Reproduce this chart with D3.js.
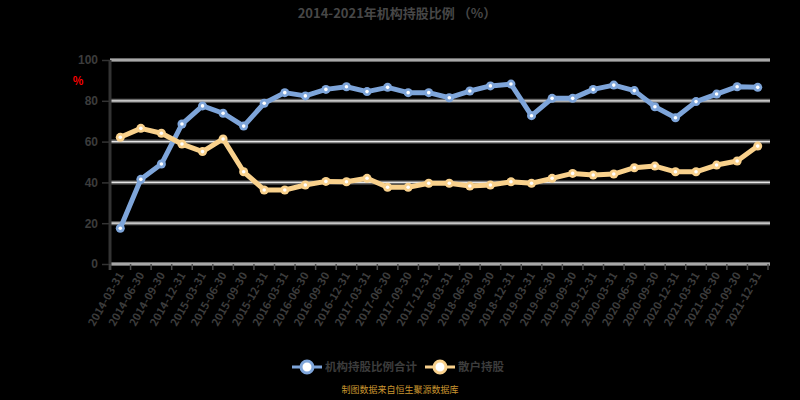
<!DOCTYPE html>
<html>
<head>
<meta charset="utf-8">
<script src="https://d3js.org/d3.v7.min.js"></script>
<style>
	body { margin: 0; background: #000; }
	svg { background-color: #000; font-family: "Noto Sans CJK SC", "Noto Sans", sans-serif; }
	.grid .outer { stroke: #6a6a6a; stroke-width: 4; }
	.grid .inner { stroke: #e6e6e6; stroke-width: 1.2; }
	.tick-label { fill: #3c3c3c; font-size: 11px; font-weight: bold; }
</style>
</head>
<body>
<svg id="chart" width="800" height="400"></svg>
<script>
// data
var dates = ["2014-03-31","2014-06-30","2014-09-30","2014-12-31","2015-03-31","2015-06-30","2015-09-30","2015-12-31",
	"2016-03-31","2016-06-30","2016-09-30","2016-12-31","2017-03-31","2017-06-30","2017-09-30","2017-12-31",
	"2018-03-31","2018-06-30","2018-09-30","2018-12-31","2019-03-31","2019-06-30","2019-09-30","2019-12-31",
	"2020-03-31","2020-06-30","2020-09-30","2020-12-31","2021-03-31","2021-06-30","2021-09-30","2021-12-31"];
var blueValues = [17.5, 41.5, 49.0, 68.6, 77.5, 73.9, 67.6, 78.8, 84.0, 82.4, 85.6, 86.9, 84.5, 86.6, 84.0, 84.0,
	81.5, 84.8, 87.3, 88.2, 72.7, 81.2, 81.2, 85.6, 87.7, 85.0, 77.1, 71.7, 79.6, 83.3, 86.9, 86.6];
var orangeValues = [62.1, 66.5, 64.1, 58.8, 55.1, 61.3, 45.2, 36.3, 36.3, 38.7, 40.5, 40.3, 42.0, 37.6, 37.6, 39.6,
	39.6, 38.2, 38.7, 40.3, 39.6, 42.0, 44.4, 43.6, 44.1, 47.2, 48.0, 45.2, 45.2, 48.5, 50.5, 57.8];
var yTicks = [0, 20, 40, 60, 80, 100];
var seriesNames = ["机构持股比例合计", "散户持股"];
var titleText = "2014-2021年机构持股比例 （%）";
var sourceText = "制图数据来自恒生聚源数据库";

var svg = d3.select("#chart");
var plotLeft = 110, plotRight = 768, plotTop = 60, plotBottom = 264;

var x = d3.scaleBand().domain(dates).range([plotLeft, plotRight]);
var y = d3.scaleLinear().domain([0, 100]).range([plotBottom, plotTop]);

// title
svg.append("text")
	.attr("x", 397).attr("y", 18)
	.attr("text-anchor", "middle")
	.style("font-size", "13px").style("font-weight", "bold")
	.style("fill", "#474747")
	.text(titleText);

// red unit mark
svg.append("text")
	.attr("x", 78).attr("y", 85)
	.attr("text-anchor", "middle")
	.style("font-size", "11px").style("font-weight", "bold")
	.style("fill", "#ff0000")
	.text("%");

// grid lines
var grid = svg.append("g").attr("class", "grid");
yTicks.forEach(function(t) {
	grid.append("line").attr("class", "outer")
		.attr("x1", plotLeft).attr("x2", 770).attr("y1", y(t)).attr("y2", y(t));
	grid.append("line").attr("class", "inner")
		.attr("x1", plotLeft).attr("x2", 770).attr("y1", y(t)).attr("y2", y(t));
});

// y axis
var yAxis = svg.append("g")
	.attr("transform", "translate(" + plotLeft + ",0)")
	.call(d3.axisLeft(y).tickValues(yTicks).tickSize(8).tickPadding(4));
yAxis.select(".domain").attr("stroke", "#333").attr("stroke-width", 3)
	.attr("d", "M0," + plotTop + "V" + (plotBottom + 6));
yAxis.selectAll(".tick line").attr("stroke", "#333").attr("stroke-width", 1.5);
yAxis.selectAll(".tick text").attr("class", "tick-label").style("font-size", "12px");

// x axis ticks at band boundaries
var xAxis = svg.append("g").attr("transform", "translate(0," + plotBottom + ")");
xAxis.selectAll("line.tk")
	.data(dates.concat(["end"]))
	.enter().append("line")
	.attr("x1", function(d, i) { return plotLeft + i * x.step(); })
	.attr("x2", function(d, i) { return plotLeft + i * x.step(); })
	.attr("y1", 0).attr("y2", 6)
	.attr("stroke", "#4a4a4a").attr("stroke-width", 1.5);

xAxis.selectAll("text")
	.data(dates)
	.enter().append("text")
	.attr("class", "tick-label")
	.attr("text-anchor", "end")
	.attr("transform", function(d) {
		return "translate(" + (x(d) + x.bandwidth() / 2 + 4) + ",11) rotate(-60)";
	})
	.text(function(d) { return d; });

// lines
var series = [
	{name: seriesNames[0], values: blueValues, color: "#7ea5da"},
	{name: seriesNames[1], values: orangeValues, color: "#f9d18c"}
];

var line = d3.line()
	.x(function(d, i) { return x(dates[i]) + x.bandwidth() / 2; })
	.y(function(d) { return y(d); });

series.forEach(function(s) {
	var g = svg.append("g");
	g.append("path")
		.datum(s.values)
		.attr("d", line)
		.attr("fill", "none")
		.attr("stroke", s.color)
		.attr("stroke-width", 5)
		.attr("stroke-linejoin", "round");
	g.selectAll("circle.m")
		.data(s.values)
		.enter().append("circle")
		.attr("cx", function(d, i) { return x(dates[i]) + x.bandwidth() / 2; })
		.attr("cy", function(d) { return y(d); })
		.attr("r", 4.5)
		.attr("fill", s.color);
	g.selectAll("circle.w")
		.data(s.values)
		.enter().append("circle")
		.attr("cx", function(d, i) { return x(dates[i]) + x.bandwidth() / 2; })
		.attr("cy", function(d) { return y(d); })
		.attr("r", 1.8)
		.attr("fill", "#fff");
});

// legend
var legendX = [292, 425];
series.forEach(function(s, i) {
	var lg = svg.append("g").attr("transform", "translate(" + legendX[i] + ",367)");
	lg.append("line").attr("x1", 0).attr("x2", 30).attr("y1", 0).attr("y2", 0)
		.attr("stroke", s.color).attr("stroke-width", 3);
	lg.append("circle").attr("cx", 15).attr("cy", 0).attr("r", 6)
		.attr("fill", "#fff").attr("stroke", s.color).attr("stroke-width", 3);
	lg.append("text").attr("x", 33).attr("y", 4)
		.style("font-size", "11.5px").style("font-weight", "bold")
		.style("fill", "#3c3c3c")
		.text(s.name);
});

// source
svg.append("text")
	.attr("x", 400).attr("y", 393)
	.attr("text-anchor", "middle")
	.style("font-size", "9px")
	.style("fill", "#c9952f")
	.text(sourceText);
</script>
</body>
</html>
